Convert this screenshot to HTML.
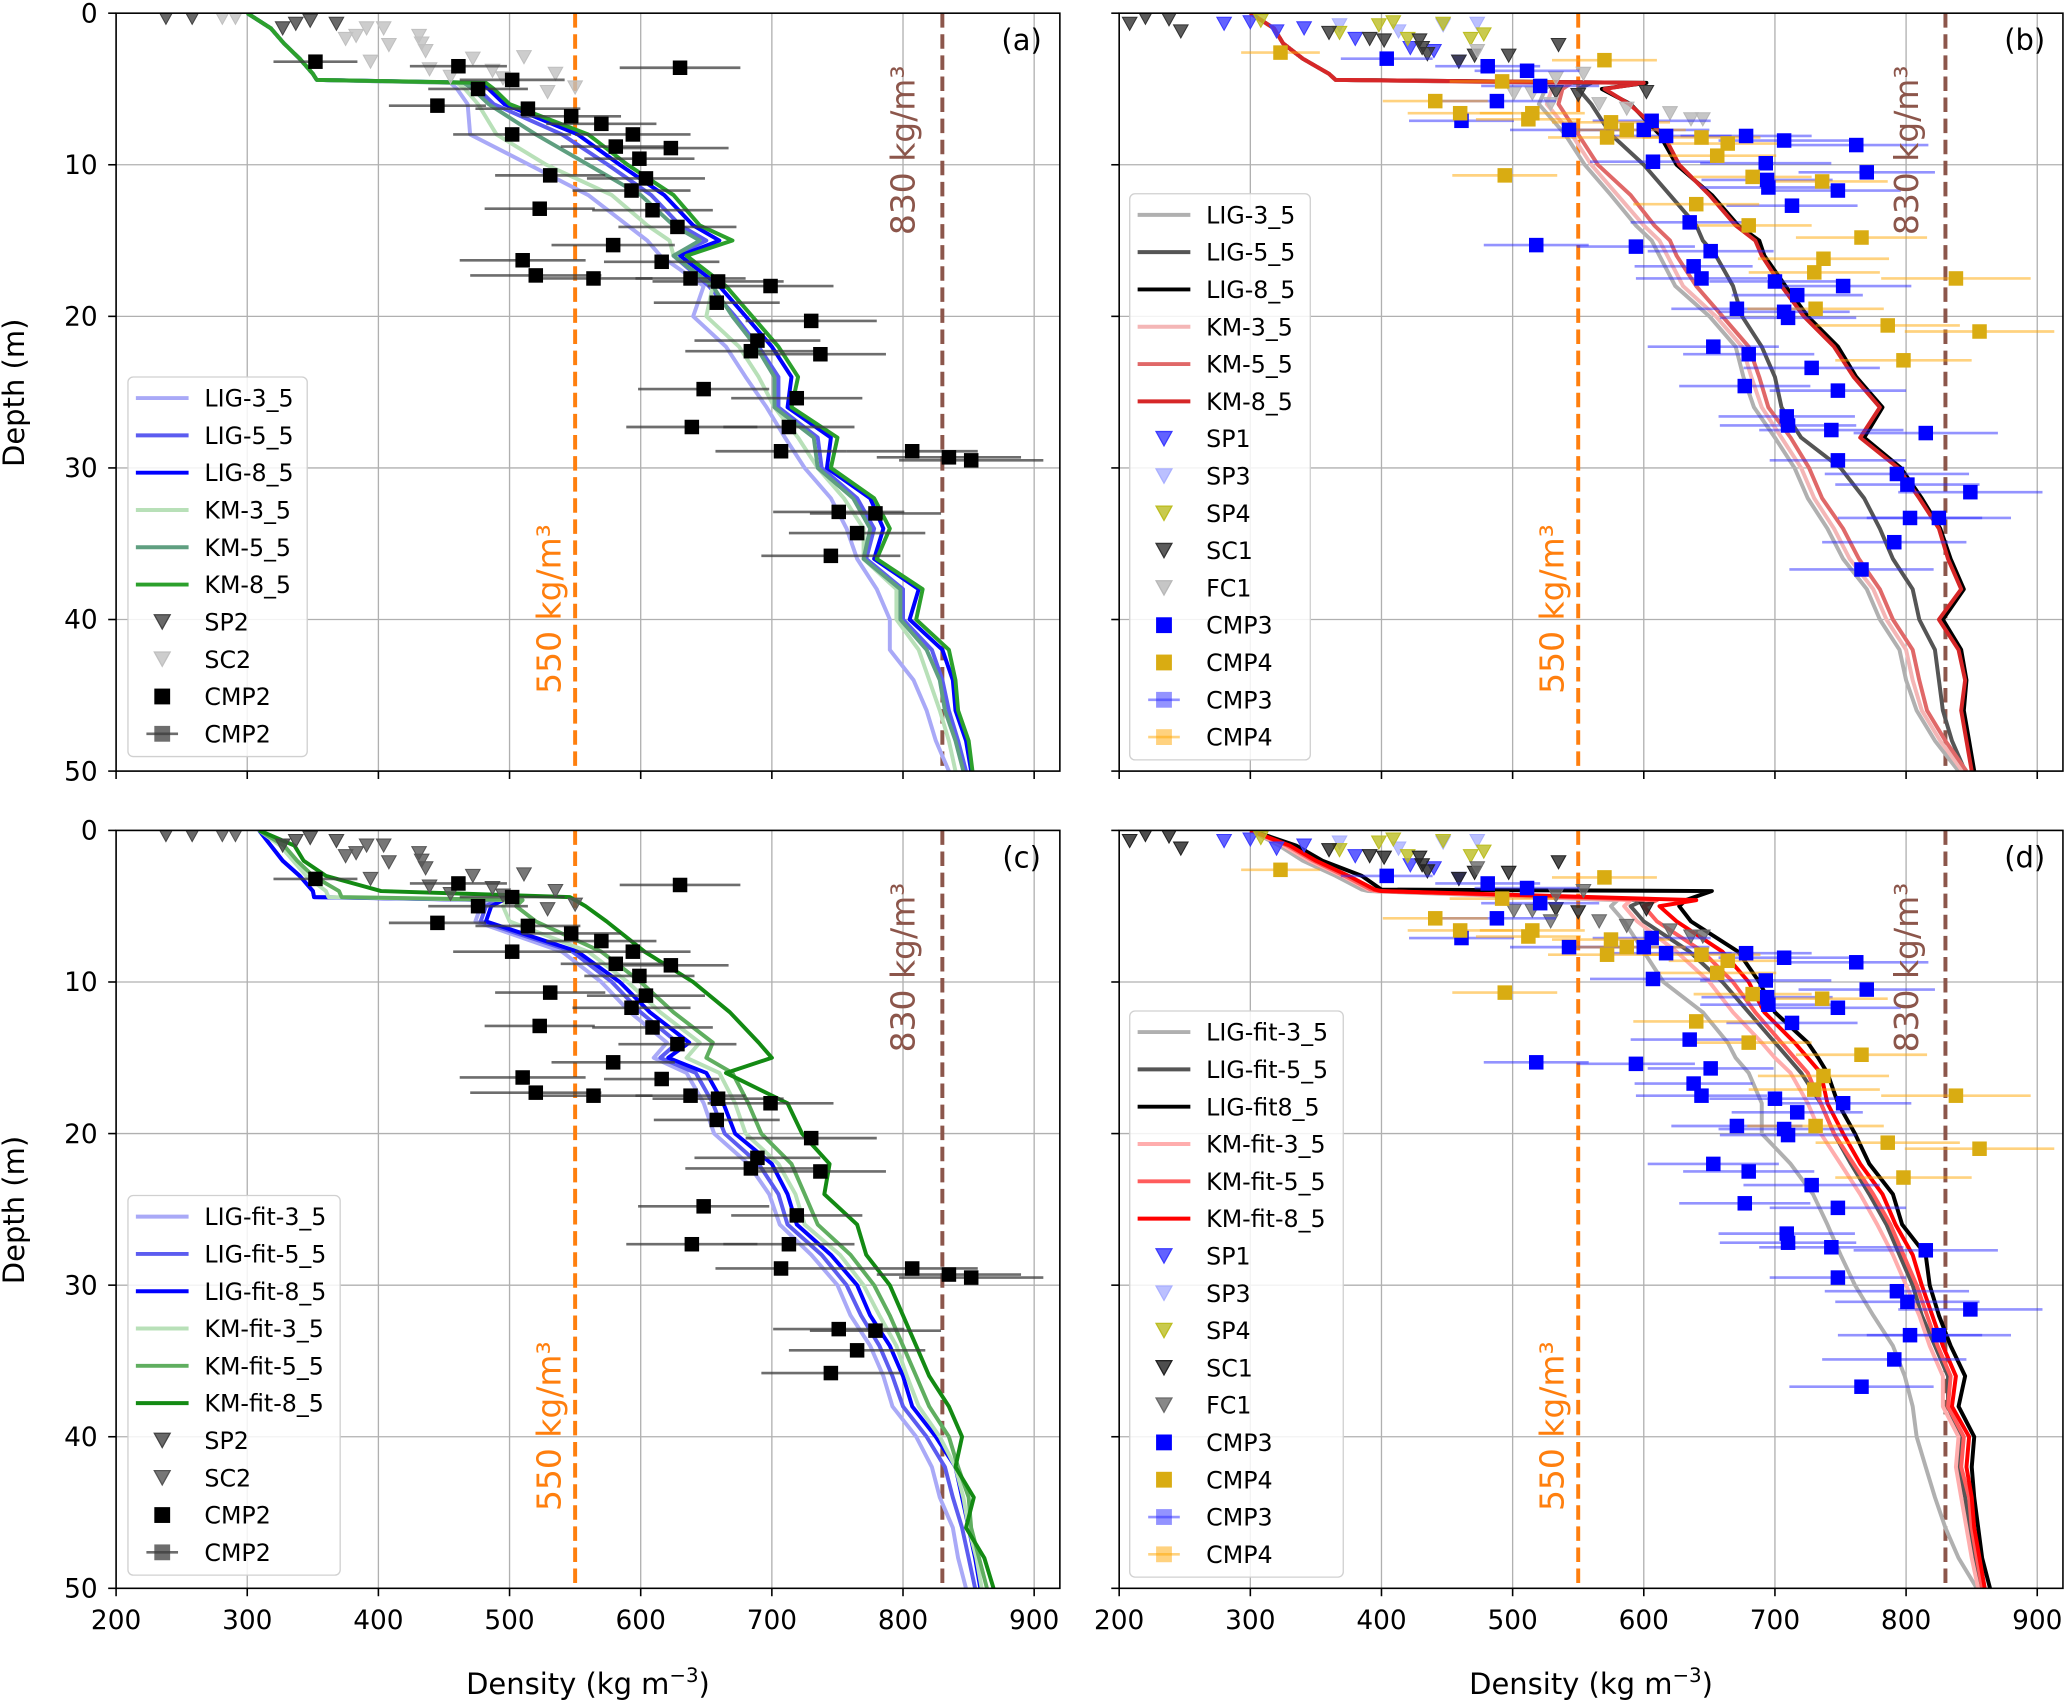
<!DOCTYPE html>
<html><head><meta charset="utf-8">
<style>
html,body{margin:0;padding:0;background:#fff;}
svg{display:block;font-family:"DejaVu Sans","Liberation Sans",sans-serif;}
</style></head>
<body>
<svg id="fig" width="2067" height="1703" viewBox="0 0 1568 1292" xmlns="http://www.w3.org/2000/svg">
<rect x="0" y="0" width="1568" height="1292" fill="#fff"/>
</svg>
<script>
// ---------- data ----------
const depthAC = [0,1,2,3,4,4.4,4.6,5,6,8,10,12,14,15,16,18,20,22,24,26,28,30,32,34,36,38,40,42,44,46,48,50];
const depthB  = [0,1,2,3,4,4.4,4.6,5,6,8,10,12,14,15,16,18,20,22,24,26,28,30,32,34,36,38,40,42,44,46,48,50];
const depthD  = [0,1,2,3,3.9,4.0,4.6,5,6,8,10,12,14,15,16,18,20,22,24,26,28,30,32,34,36,38,40,42,44,46,48,50];

// panel (a)
const aLIG3 = [300,318,328,340,350,353,455,460,468,470,515,560,590,605,615,648,640,665,680,696,710,725,745,757,765,780,790,790,808,818,825,835];
const aLIG5 = [300,318,328,340,350,353,470,476,488,540,575,608,630,650,625,652,672,690,705,705,735,738,765,778,772,800,800,822,830,835,842,848];
const aLIG8 = [300,318,328,340,350,353,478,484,496,552,584,618,640,660,630,660,680,700,715,712,745,742,775,785,778,812,805,830,838,840,848,852];
const aKM3  = [300,318,328,340,350,353,460,466,476,490,528,578,605,622,625,655,650,675,690,702,720,735,755,770,770,795,795,812,820,828,835,840];
const aKM5  = [300,318,328,340,350,353,465,472,484,520,560,600,625,645,625,655,670,688,702,702,732,735,762,775,770,798,798,818,828,832,840,846];
const aKM8  = [300,318,328,340,350,353,482,488,500,560,590,625,645,670,635,665,685,705,720,715,750,745,778,790,780,815,810,835,840,842,850,853];
// panel (b)
const bLIG3 = [300,318,325,340,360,365,530,525,520,540,555,575,594,606,612,624,650,670,676,684,700,715,725,740,752,770,780,795,800,808,822,840];
const bLIG5 = [300,318,325,340,360,365,560,550,560,575,600,620,640,645,655,668,675,690,700,705,720,750,768,780,790,805,810,822,825,828,835,845];
const bLIG8 = [300,318,325,340,360,365,602,568,590,612,625,652,672,688,692,708,725,748,762,782,768,796,812,826,834,844,828,842,846,844,848,852];
const bKM3  = [300,318,325,340,360,365,535,530,526,545,560,580,600,612,618,630,655,675,682,690,705,720,730,745,757,775,785,800,805,812,826,843];
const bKM5  = [300,318,325,340,360,365,545,538,535,550,565,590,608,620,625,640,660,680,688,695,712,726,736,752,764,780,790,805,810,816,830,846];
const bKM8  = [300,318,325,340,360,365,600,570,589,615,627,650,670,685,690,705,722,745,760,780,765,794,810,825,832,842,825,840,845,842,846,850];
// panel (c)
const cLIG3 = [309,318,327,340,350,351,485,478,474,540,570,592,620,610,635,648,656,682,698,706,730,750,760,775,785,792,810,822,828,838,842,848];
const cLIG5 = [309,318,327,340,350,351,490,482,478,548,578,600,628,615,642,655,664,690,705,712,738,757,768,782,792,800,818,832,838,845,850,855];
const cLIG8 = [309,318,327,340,350,351,495,486,482,552,584,607,637,621,650,663,672,700,712,719,745,765,775,790,800,807,825,840,845,850,855,859];
const cKM3  = [309,325,335,345,360,362,500,495,500,560,590,615,645,635,660,672,680,705,718,725,752,770,782,795,803,812,828,840,846,850,856,860];
const cKM5  = [309,328,338,350,370,372,510,505,520,570,600,625,655,650,670,682,692,715,725,735,760,778,790,800,810,820,835,842,850,852,858,864];
const cKM8  = [309,336,343,360,402,546,550,558,574,603,640,668,690,700,665,712,723,744,740,765,772,790,800,810,820,835,845,840,854,848,862,869];
// panel (d)
const dLIG3 = [300,322,340,365,385,390,580,575,585,600,615,645,664,670,680,690,690,712,729,740,750,761,775,790,799,805,808,815,822,830,840,854];
const dLIG5 = [300,325,345,370,390,395,600,590,600,635,660,680,700,710,720,735,745,758,772,785,795,805,812,822,832,832,842,840,845,848,852,856];
const dLIG8 = [301,335,355,385,400,652,632,627,636,672,688,700,725,733,740,748,761,772,790,797,815,818,825,834,845,840,852,850,852,855,858,864];
const dKM3  = [300,325,345,370,390,395,590,585,595,625,650,668,690,700,712,725,735,750,765,778,790,800,810,818,828,828,840,838,842,846,850,855];
const dKM5  = [300,328,348,372,392,398,610,600,610,645,668,685,705,715,725,735,745,760,775,788,798,808,816,824,834,832,844,842,848,850,854,858];
const dKM8  = [300,330,350,375,395,400,640,612,625,660,680,692,715,725,735,740,752,765,782,792,805,812,820,828,838,835,848,846,850,852,856,860];

// CMP2 cores (a, c)
const cmp2Dens  = [352,461,630,502,476,445,514,547,570,594,502,581,623,599,604,531,593,609,523,628,579,510,616,520,564,638,659,699,658,730,689,684,737,648,719,639,713,707,807,835,852,751,779,765,745];
const cmp2Depth = [3.2,3.5,3.6,4.4,5.0,6.1,6.3,6.8,7.3,8.0,8.0,8.8,8.9,9.6,10.9,10.7,11.7,13.0,12.9,14.1,15.3,16.3,16.4,17.3,17.5,17.5,17.7,18.0,19.1,20.3,21.6,22.3,22.5,24.8,25.4,27.3,27.3,28.9,28.9,29.3,29.5,32.9,33.0,34.3,35.8];
const cmp2Err   = [32,37,46,40,38,37,40,38,42,44,45,42,44,42,45,42,45,46,42,45,47,48,44,50,45,42,50,48,48,50,48,50,50,50,50,50,50,50,50,55,55,50,50,52,53];
// CMP3 / CMP4 (b, d)
const cmp3Dens  = [404,481,511,521,488,461,543,606,600,617,678,707,762,607,693,770,694,695,748,713,635,518,594,651,638,644,700,752,717,671,707,710,653,680,728,677,748,709,710,743,815,748,793,801,849,803,825,791,766];
const cmp3Depth = [3.0,3.5,3.8,4.8,5.8,7.1,7.7,7.1,7.7,8.1,8.1,8.4,8.7,9.8,9.9,10.5,11.0,11.5,11.7,12.7,13.8,15.3,15.4,15.7,16.7,17.5,17.7,18.0,18.6,19.5,19.7,20.1,22.0,22.5,23.4,24.6,24.9,26.6,27.2,27.5,27.7,29.5,30.4,31.1,31.6,33.3,33.3,34.9,36.7];
const cmp3Err   = [35,40,40,45,45,40,45,45,50,50,50,50,55,48,50,52,50,52,48,50,45,40,45,48,45,50,50,52,50,50,50,52,50,50,52,50,52,52,52,55,55,52,55,55,55,55,55,55,55];
const cmp4Dens  = [323,570,492,441,460,515,512,575,587,572,644,664,656,494,683,736,640,680,766,737,730,838,731,786,856,798];
const cmp4Depth = [2.6,3.1,4.5,5.8,6.6,6.6,7.0,7.2,7.7,8.2,8.2,8.6,9.4,10.7,10.8,11.1,12.6,14.0,14.8,16.2,17.1,17.5,19.5,20.6,21.0,22.9];
const cmp4Err   = [30,40,40,40,40,40,40,45,45,45,45,45,45,40,45,50,48,48,50,50,50,57,52,55,57,52];
// snow pits / shallow cores
const sp2Dens = [238,258,327,337,348,368];
const sp2Depth = [0.3,0.3,1.0,0.7,0.5,0.7];
const sc2Dens = [281,291,375,383,391,404,408,431,433,436,439,394,455,472,487,511,529,535,550,495];
const sc2Depth = [0.3,0.3,1.7,1.5,1.0,1.0,2.1,1.5,2.0,2.5,3.7,3.2,4.2,3.0,3.8,2.9,5.2,4.0,4.9,4.3];
const sp1Dens = [280,300,320,341,380,422,440,459];
const sp1Depth = [0.7,0.6,1.2,1.0,1.7,2.3,2.5,3.2];
const sp3Dens = [368,447,473,413];
const sp3Depth = [0.8,0.8,0.7,1.2];
const sp4Dens = [308,368,398,409,420,447,468,478];
const sp4Depth = [0.5,1.3,0.8,0.6,1.7,0.7,1.7,1.4];
const sc1Dens = [208,220,238,247,360,391,402,429,435,471,497,535,533,550,602,431,459];
const sc1Depth = [0.7,0.3,0.4,1.2,1.3,1.7,1.8,1.8,2.7,2.8,2.8,2.1,5.2,5.4,5.2,2.3,3.2];
const fc1Dens = [501,515,529,566,587,620,636,645,554,533,473];
const fc1Depth = [5.3,5.3,6.0,6.0,6.3,6.6,7.0,7.0,4.0,4.3,2.5];

const xTicks = [200,300,400,500,600,700,800,900];
const yTicks = [0,10,20,30,40,50];

// ---------- drawing ----------
const NS = 'http://www.w3.org/2000/svg';
const svg = document.getElementById('fig');
function mk(tag, attrs, parent){
  const e = document.createElementNS(NS, tag);
  for (const k in attrs) e.setAttribute(k, attrs[k]);
  (parent||svg).appendChild(e);
  return e;
}
const PX = 0.995, PY = 11.5;

const panels = [
 {id:'a', x0:88, y0:10, lines:[
   ['LIG-3_5', aLIG3, depthAC, '#a9a9f7'],['LIG-5_5', aLIG5, depthAC, '#5c5cf0'],['LIG-8_5', aLIG8, depthAC, '#0000ff'],
   ['KM-3_5', aKM3, depthAC, '#b8e0b8'],['KM-5_5', aKM5, depthAC, '#5f9f80'],['KM-8_5', aKM8, depthAC, '#2ca02c']],
  tri:[['SP2', sp2Dens, sp2Depth, '#444444'],['SC2', sc2Dens, sc2Depth, '#c0c0c0']],
  cmp:[['CMP2', cmp2Dens, cmp2Depth, cmp2Err, '#000000', 'rgba(60,60,60,0.75)']],
  legendX:97, legendY:286, legendW:136, xlabels:false, ylabels:true},
 {id:'b', x0:849, y0:10, lines:[
   ['LIG-3_5', bLIG3, depthB, '#b0b0b0'],['LIG-5_5', bLIG5, depthB, '#555555'],['LIG-8_5', bLIG8, depthB, '#000000'],
   ['KM-3_5', bKM3, depthB, '#f4b6b6'],['KM-5_5', bKM5, depthB, '#e06868'],['KM-8_5', bKM8, depthB, '#d62728']],
  tri:[['SP1', sp1Dens, sp1Depth, '#3b3bff'],['SP3', sp3Dens, sp3Depth, '#aab0ff'],['SP4', sp4Dens, sp4Depth, '#bcbd22'],['SC1', sc1Dens, sc1Depth, '#333333'],['FC1', fc1Dens, fc1Depth, '#b8b8b8']],
  cmp:[['CMP3', cmp3Dens, cmp3Depth, cmp3Err, '#0000ff', 'rgba(40,40,255,0.5)'],['CMP4', cmp4Dens, cmp4Depth, cmp4Err, '#d9ac12', 'rgba(255,165,0,0.5)']],
  legendX:857, legendY:147, legendW:137, xlabels:false, ylabels:false},
 {id:'c', x0:88, y0:630, lines:[
   ['LIG-fit-3_5', cLIG3, depthAC, '#a9a9f7'],['LIG-fit-5_5', cLIG5, depthAC, '#5c5cf0'],['LIG-fit-8_5', cLIG8, depthAC, '#0000ff'],
   ['KM-fit-3_5', cKM3, depthAC, '#b8e0b8'],['KM-fit-5_5', cKM5, depthAC, '#5fae5f'],['KM-fit-8_5', cKM8, depthAC, '#138a13']],
  tri:[['SP2', sp2Dens, sp2Depth, '#444444'],['SC2', sc2Dens, sc2Depth, '#555555']],
  cmp:[['CMP2', cmp2Dens, cmp2Depth, cmp2Err, '#000000', 'rgba(60,60,60,0.75)']],
  legendX:97, legendY:907, legendW:161, xlabels:true, ylabels:true},
 {id:'d', x0:849, y0:630, lines:[
   ['LIG-fit-3_5', dLIG3, depthD, '#b0b0b0'],['LIG-fit-5_5', dLIG5, depthD, '#555555'],['LIG-fit8_5', dLIG8, depthD, '#000000'],
   ['KM-fit-3_5', dKM3, depthD, '#ffadad'],['KM-fit-5_5', dKM5, depthD, '#ff5c5c'],['KM-fit-8_5', dKM8, depthD, '#ff0000']],
  tri:[['SP1', sp1Dens, sp1Depth, '#3b3bff'],['SP3', sp3Dens, sp3Depth, '#aab0ff'],['SP4', sp4Dens, sp4Depth, '#bcbd22'],['SC1', sc1Dens, sc1Depth, '#222222'],['FC1', fc1Dens, fc1Depth, '#6a6a6a']],
  cmp:[['CMP3', cmp3Dens, cmp3Depth, cmp3Err, '#0000ff', 'rgba(40,40,255,0.5)'],['CMP4', cmp4Dens, cmp4Depth, cmp4Err, '#d9ac12', 'rgba(255,165,0,0.5)']],
  legendX:857, legendY:767, legendW:162, xlabels:true, ylabels:false}
];

function triPts(x,y,s){ return (x-s)+','+(y-s*0.9)+' '+(x+s)+','+(y-s*0.9)+' '+x+','+(y+s*0.9); }

panels.forEach(p => {
  const W = 716, H = 575;
  const X = v => p.x0 + (v-200)*PX;
  const Y = d => p.y0 + d*PY;
  const g = mk('g', {});
  
  
  const clip = mk('clipPath', {id:'clip'+p.id}, g);
  mk('rect', {x:p.x0, y:p.y0, width:W, height:H}, clip);

  const grid = mk('g', {stroke:'#b0b0b0', 'stroke-width':1}, g);
  
  
  xTicks.forEach(t => { mk('line', {x1:X(t), x2:X(t), y1:p.y0, y2:p.y0+H}, grid); });
  yTicks.forEach(t => { mk('line', {x1:p.x0, x2:p.x0+W, y1:Y(t), y2:Y(t)}, grid); });

  const plot = mk('g', {'clip-path':'url(#clip'+p.id+')'}, g);
  const r550 = mk('line', {x1:X(550), x2:X(550), y1:p.y0, y2:p.y0+H, stroke:'#ff7f0e', 'stroke-width':3, 'stroke-dasharray':'11,5'}, plot);
  
  
  const r830 = mk('line', {x1:X(830), x2:X(830), y1:p.y0, y2:p.y0+H, stroke:'#8c564b', 'stroke-width':3, 'stroke-dasharray':'11,5'}, plot);
  
  

  p.lines.forEach(L => {
    const pts = L[1].map((v,i) => X(v).toFixed(1)+','+Y(L[2][i]).toFixed(1)).join(' ');
    const pl = mk('polyline', {points:pts, fill:'none', stroke:L[3], 'stroke-width':3, 'stroke-linejoin':'round'}, plot);
    
    
  });

  p.tri.forEach(T => {
    T[1].forEach((v,i) => {
      const t = mk('polygon', {points:triPts(X(v), Y(T[2][i]), 5.5), fill:T[3], 'fill-opacity':0.8, stroke:T[3], 'stroke-width':0.8}, plot);
      
      
    });
  });

  p.cmp.forEach(C => {
    C[1].forEach((v,i) => {
      const eb = mk('line', {x1:X(v-C[3][i]), x2:X(v+C[3][i]), y1:Y(C[2][i]), y2:Y(C[2][i]), stroke:C[5], 'stroke-width':2}, plot);
      
      
    });
  });
  p.cmp.forEach(C => {
    C[1].forEach((v,i) => {
      const sq = mk('rect', {x:X(v)-5.5, y:Y(C[2][i])-5.5, width:11, height:11, fill:C[4]}, plot);
      
      
    });
  });

  const t550 = mk('text', {x:0, y:0, transform:'translate('+(X(550)-11)+','+(p.y0+452)+') rotate(-90)', fill:'#ff7f0e', 'font-size':25, 'text-anchor':'middle'}, g);
  t550.textContent = '550 kg/m³';
  
  
  const t830 = mk('text', {x:0, y:0, transform:'translate('+(X(830)-21)+','+(p.y0+104)+') rotate(-90)', fill:'#8c564b', 'font-size':25, 'text-anchor':'middle'}, g);
  t830.textContent = '830 kg/m³';
  
  

  const fr = mk('rect', {x:p.x0, y:p.y0, width:W, height:H, fill:'none', stroke:'#000', 'stroke-width':1.2}, g);
  
  

  xTicks.forEach(t => {
    mk('line', {x1:X(t), x2:X(t), y1:p.y0+H, y2:p.y0+H+6, stroke:'#000', 'stroke-width':1.2}, g);
    if (p.xlabels) {
      const tl = mk('text', {x:X(t), y:p.y0+H+31, 'font-size':20, 'text-anchor':'middle'}, g);
      tl.textContent = t;
      
      
    }
  });
  yTicks.forEach(t => {
    mk('line', {x1:p.x0-6, x2:p.x0, y1:Y(t), y2:Y(t), stroke:'#000', 'stroke-width':1.2}, g);
    if (p.ylabels) {
      const tl = mk('text', {x:p.x0-14, y:Y(t)+7, 'font-size':20, 'text-anchor':'end'}, g);
      tl.textContent = t;
      
      
    }
  });

  const pl = mk('text', {x:p.x0+W-29, y:p.y0+28, 'font-size':22, 'text-anchor':'middle'}, g);
  pl.textContent = '(' + p.id + ')';
  
  

  if (p.ylabels) {
    const yl = mk('text', {x:0, y:0, transform:'translate(18,'+(p.y0+288)+') rotate(-90)', 'font-size':22, 'text-anchor':'middle'}, g);
    yl.textContent = 'Depth (m)';
    
    
  }
  if (p.xlabels) {
    const xl = mk('text', {x:p.x0+358, y:p.y0+H+80, 'font-size':22, 'text-anchor':'middle'}, g);
    xl.innerHTML = 'Density (kg m<tspan dy="-9" font-size="15">−3</tspan><tspan dy="9">)</tspan>';
    
    
  }

  const entries = [];
  p.lines.forEach(L => entries.push({k:'line', n:L[0], c:L[3]}));
  p.tri.forEach(T => entries.push({k:'tri', n:T[0], c:T[3]}));
  p.cmp.forEach(C => entries.push({k:'sq', n:C[0], c:C[4]}));
  p.cmp.forEach(C => entries.push({k:'eb', n:C[0], c:C[5], f:C[4]}));
  const lg = mk('g', {}, g);
  
  
  const step = 28.3;
  mk('rect', {x:p.legendX, y:p.legendY, width:p.legendW, height:entries.length*step+5, rx:4, fill:'#fff', 'fill-opacity':0.85, stroke:'#d0d0d0', 'stroke-width':1}, lg);
  entries.forEach((e,i) => {
    const cy = p.legendY + 16 + i*step;
    const eg = mk('g', {}, lg);
    
    
    const mx = p.legendX + 26;
    if (e.k === 'line') mk('line', {x1:p.legendX+6, x2:p.legendX+46, y1:cy, y2:cy, stroke:e.c, 'stroke-width':3}, eg);
    else if (e.k === 'tri') mk('polygon', {points:triPts(mx, cy, 6), fill:e.c, 'fill-opacity':0.8, stroke:e.c}, eg);
    else if (e.k === 'sq') mk('rect', {x:mx-6, y:cy-6, width:12, height:12, fill:e.c}, eg);
    else { mk('rect', {x:mx-6, y:cy-6, width:12, height:12, fill:e.c}, eg); mk('line', {x1:mx-12, x2:mx+12, y1:cy, y2:cy, stroke:e.c, 'stroke-width':2}, eg); }
    const tx = mk('text', {x:p.legendX+58, y:cy+6.5, 'font-size':18}, eg);
    tx.textContent = e.n;
  });
});
</script>
</body></html>
